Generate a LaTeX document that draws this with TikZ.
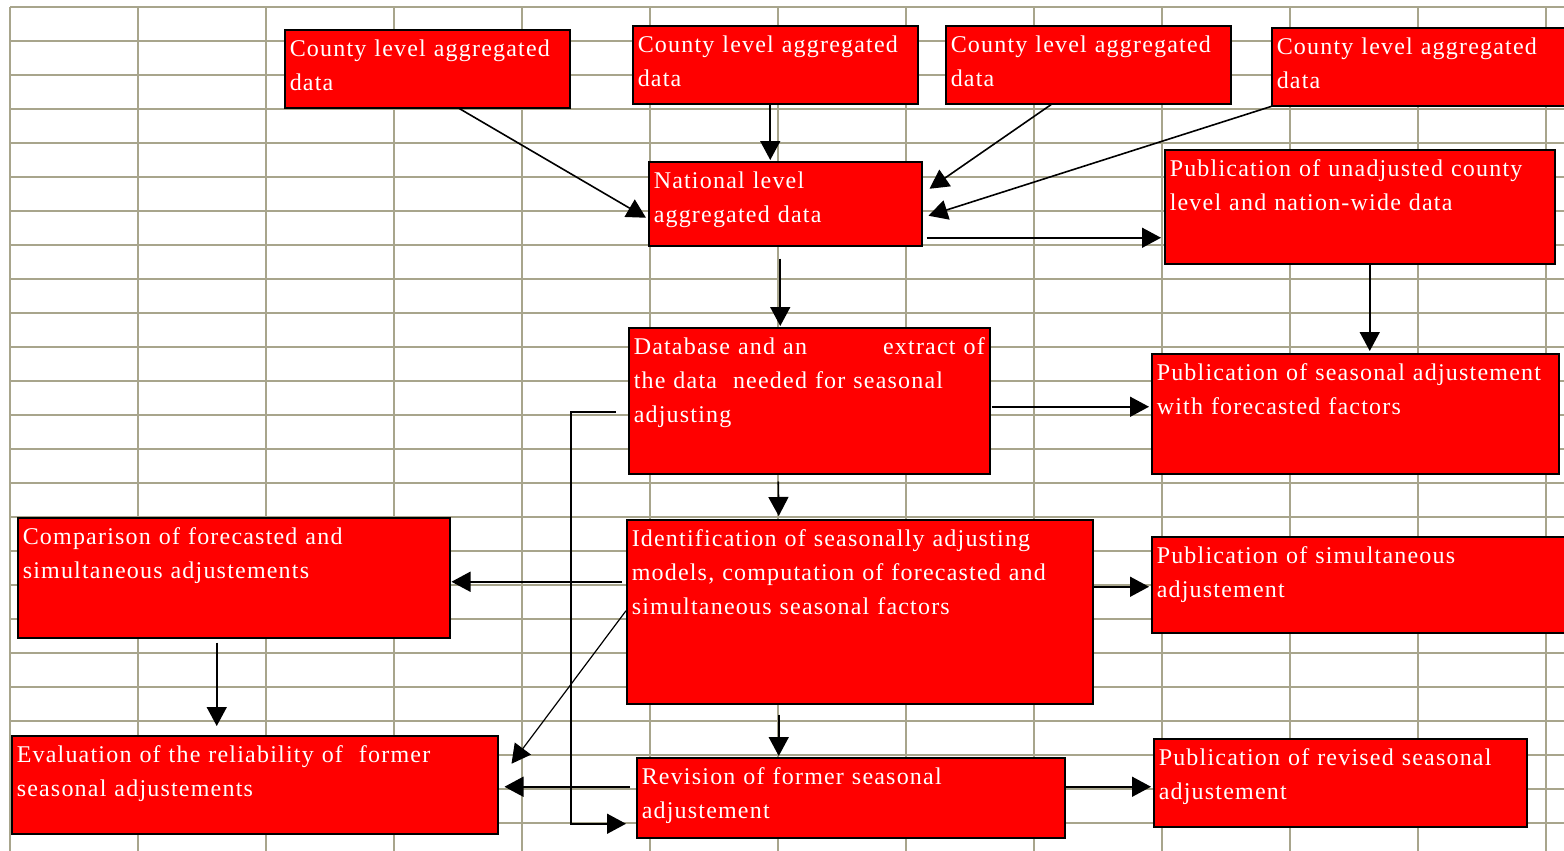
\documentclass[tikz,border=0pt]{standalone}
\usepackage{fontspec}
\setmainfont{Liberation Serif}[LetterSpace=5]
\usetikzlibrary{arrows.meta,calc}

\definecolor{gitterfarbe}{RGB}{168,165,140}

\tikzset{
  kasten/.style={draw=black, line width=0.75pt, fill=red, text=white,
    anchor=north west, align=left, inner xsep=2.5pt, inner ysep=0pt,
    text height=13.5pt, font=\fontsize{12pt}{17pt}\selectfont},
  pfeil/.style={line width=0.8pt, -{Triangle[length=9.5pt,width=10pt]}},
  gitter/.style={gitterfarbe, line width=1pt}
}

\begin{document}
\begin{tikzpicture}[x=0.5pt,y=-0.5pt]

  \useasboundingbox (0,0) rectangle (1564,851);
  \clip (0,0) rectangle (1564,851);

  % Tabellengitter
  \foreach \i in {0,...,12}
    \draw[gitter] (10+128*\i,7) -- (10+128*\i,851);
  \foreach \j in {0,...,24}
    \draw[gitter] (10,7+34*\j) -- (1564,7+34*\j);

  % Kreisdaten
  \node[kasten, text width=137.5pt, text depth=25.5pt] (cty1) at (284,29) {County level aggregated\\data};
  \node[kasten, text width=137.5pt, text depth=25.5pt] (cty2) at (632,25) {County level aggregated\\data};
  \node[kasten, text width=137.5pt, text depth=25.5pt] (cty3) at (945,25) {County level aggregated\\data};
  \node[kasten, text width=147pt, text depth=25.5pt] (cty4) at (1271,27) {County level aggregated\\data};

  % nationale Ebene
  \node[kasten, text width=131.5pt, text depth=28.5pt] (nat) at (648,161) {National level\\aggregated data};
  \node[kasten, text width=190pt, text depth=43.5pt] (pubunadj) at (1164,149) {Publication of unadjusted county\\level and nation-wide data};

  % Datenbank
  \node[kasten, text width=175.5pt, text depth=59.5pt] (db) at (628,327) {Database and an\hfill extract of\\the data\ \ needed for seasonal\\adjusting};
  \node[kasten, text width=198.5pt, text depth=46.5pt] (pubfc) at (1151,353) {Publication of seasonal adjustement\\with forecasted factors};

  % Saisonbereinigung
  \node[kasten, text width=211pt, text depth=46.5pt] (comp) at (17,517) {Comparison of forecasted and\\simultaneous adjustements};
  \node[kasten, text width=228pt, text depth=78.5pt] (ident) at (626,519) {Identification of seasonally adjusting\\models, computation of forecasted and\\simultaneous seasonal factors};
  \node[kasten, text width=204.5pt, text depth=34.5pt] (pubsim) at (1151,536) {Publication of simultaneous\\adjustement};

  % Revision
  \node[kasten, text width=238pt, text depth=35.5pt] (eval) at (11,735) {Evaluation of the reliability of\ \ former\\seasonal adjustements};
  \node[kasten, text width=209pt, text depth=26.5pt] (rev) at (636,757) {Revision of former seasonal\\adjustement};
  \node[kasten, text width=181.5pt, text depth=30.5pt] (pubrev) at (1153,738) {Publication of revised seasonal\\adjustement};

  % Pfeile oben
  \draw[pfeil] ($(cty1.south)+(32,0)$) -- ($(nat.west)+(-2,14)$);
  \draw[pfeil] ($(cty2.south)+(-5,0)$) -- ($(nat.north)+(-15,-1)$);
  \draw[pfeil] ($(cty3.south)+(-37,0)$) -- ($(nat.east)+(7,-15)$);
  \draw[pfeil] (cty4.south west) -- ($(nat.east)+(6,12)$);
  \draw[pfeil] ($(nat.east)+(4,34)$) -- ($(pubunadj.west)+(-3,31)$);
  \draw[pfeil] ($(nat.south)+(-5,12)$) -- ($(db.north)+(-29,-1)$);
  \draw[pfeil] ($(pubunadj.south)+(10,0)$) -- ($(pubfc.north)+(14.5,-2)$);

  % Pfeile Mitte
  \draw[pfeil] ($(db.east)+(1,6)$) -- ($(pubfc.west)+(-2,-7)$);
  \draw[pfeil] ($(db.south)+(-31,7)$) -- ($(ident.north)+(-81,-3)$);
  \draw[pfeil] ($(ident.west)+(-4,-30)$) -- ($(comp.east)+(1,4)$);
  \draw[pfeil] ($(ident.east)+(0,-25)$) -- ($(pubsim.west)+(-2,2)$);
  \draw[pfeil, line width=0.6pt] ($(ident.west)+(0,-1)$) -- ($(eval.east)+(13,-21)$);
  \draw[pfeil] ($(comp.south)+(-17,4)$) -- ($(eval.north)+(-38,-9)$);

  % Pfeile unten
  \draw[pfeil] ($(ident.south)+(-81,10)$) -- ($(rev.north)+(-72,-1)$);
  \draw[pfeil] ($(rev.west)+(-6,-11)$) -- ($(eval.east)+(6,2)$);
  \draw[pfeil] ($(rev.east)+(0,-11)$) -- ($(pubrev.west)+(-2,4)$);
  \draw[pfeil] ($(db.west)+(-12,11)$) -| ($(rev.west)+(-65,26)$) -- ($(rev.west)+(-10,26)$);

\end{tikzpicture}
\end{document}
